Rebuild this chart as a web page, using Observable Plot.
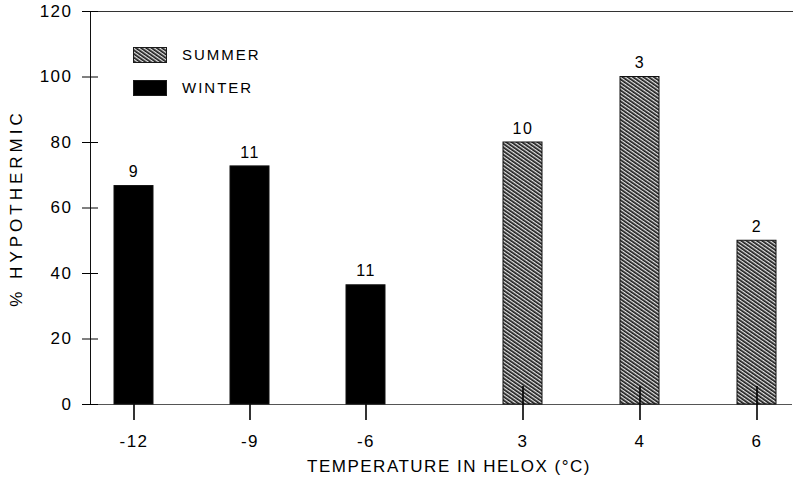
<!DOCTYPE html>
<html><head><meta charset="utf-8">
<script src="https://cdn.jsdelivr.net/npm/d3@7"></script>
<script src="https://cdn.jsdelivr.net/npm/@observablehq/plot@0.6"></script>
<style>
body{margin:0;background:#fff;font-family:"Liberation Sans",Arial,sans-serif;color:#000;}
#wrap{position:relative;width:793px;height:488px;overflow:hidden;}
#plots{display:flex;align-items:flex-start;}
.leg{position:absolute;left:133px;display:flex;align-items:center;font-size:15px;letter-spacing:2px;}
.leg svg{margin-right:15px;}
#xtitle{position:absolute;top:457px;left:0;width:898px;text-align:center;font-size:17px;letter-spacing:1.5px;}
</style></head><body>
<svg width="0" height="0" style="position:absolute"><defs>
<pattern id="hatch" patternUnits="userSpaceOnUse" width="3" height="3" patternTransform="rotate(-55)">
<rect width="3" height="3" fill="#e4e4e4"/><line x1="0.85" y1="0" x2="0.85" y2="3" stroke="#1a1a1a" stroke-width="1.7"/>
</pattern></defs></svg>
<div id="wrap">
<div id="plots"></div>
<div id="legend"></div>
<div id="xtitle"></div>
</div>
<script>
// ---- data ----
const temps = ["-12", "-9", "-6", "3", "4", "6"];
const seasons = ["WINTER", "WINTER", "WINTER", "SUMMER", "SUMMER", "SUMMER"];
const percentHypothermic = [66.7, 72.7, 36.4, 80, 100, 50];
const sampleSizes = [9, 11, 11, 10, 3, 2];
const yTicks = [0, 20, 40, 60, 80, 100, 120];
const yLabel = "% HYPOTHERMIC";
const xTitle = "TEMPERATURE IN HELOX (°C)";
const legendItems = ["SUMMER", "WINTER"];

const rows = temps.map((t, i) => ({temp: t, season: seasons[i], pct: percentHypothermic[i], n: sampleSizes[i]}));
const fills = {WINTER: "#000", SUMMER: "url(#hatch)"};
const H = 450, mTop = 11, mBottom = 46;
const style = {fontFamily: '"Liberation Sans", Arial, sans-serif', fontSize: "17px", letterSpacing: "1.5px", color: "#000", background: "transparent", overflow: "visible"};

function panel(season, o) {
  const data = rows.filter(d => d.season === season);
  const left = season === "WINTER";
  const ticks = Plot.ruleX(data, {x: "temp", y1: 0, y2: 0, insetTop: -18, insetBottom: -16, stroke: "#000", strokeWidth: 1.6});
  const marks = [
    Plot.frame({anchor: "top", stroke: "#333"}),
    Plot.ruleY([0], {stroke: "#555"}),
  ];
  if (left) marks.push(ticks);
  marks.push(Plot.barY(data, {x: "temp", y: "pct", fill: fills[season], stroke: "#111", strokeWidth: 1}));
  if (!left) marks.push(ticks);
  marks.push(
    Plot.text(data, {x: "temp", y: "pct", text: d => String(d.n), dy: -14, fontSize: 16}),
    Plot.axisX({tickSize: 0, tickPadding: 30, fontSize: 17, label: null})
  );
  if (left) {
    marks.unshift(Plot.frame({anchor: "left", stroke: "#111"}));
    marks.push(Plot.axisY(yTicks, {tickSize: 16, dx: 8, tickPadding: 10, fontSize: 17, label: yLabel, labelArrow: "none", labelAnchor: "center", labelOffset: 79}));
  }
  const svg = Plot.plot({
    width: o.width, height: H, marginLeft: o.ml, marginRight: o.mr, marginTop: mTop, marginBottom: mBottom,
    style,
    x: {type: "band", domain: data.map(d => d.temp), paddingInner: o.pi, paddingOuter: o.po, align: o.align, label: null},
    y: {domain: [0, 120], label: null, axis: left ? undefined : null},
    marks
  });
  d3.select(svg).selectAll('g[aria-label="y-axis label"] text').style("letter-spacing", "4px").attr("dy", "-0.1em");
  return svg;
}

const plots = document.getElementById("plots");
plots.append(panel("WINTER", {width: 443, ml: 90, mr: 0, pi: 0.665, po: 0.3475, align: 0.29}));
plots.append(panel("SUMMER", {width: 350, ml: 0, mr: 1, pi: 0.6695, po: 0.3136, align: 0.79}));

const leg = document.getElementById("legend");
legendItems.forEach((name, i) => {
  const div = document.createElement("div");
  div.className = "leg";
  div.style.top = (46 + i * 33) + "px";
  div.innerHTML = `<svg width="34" height="16"><rect x="0.5" y="0.5" width="33" height="15" fill="${fills[name]}" stroke="#1a1a1a"/></svg><span>${name}</span>`;
  leg.append(div);
});
document.getElementById("xtitle").textContent = xTitle;
</script>
</body></html>
